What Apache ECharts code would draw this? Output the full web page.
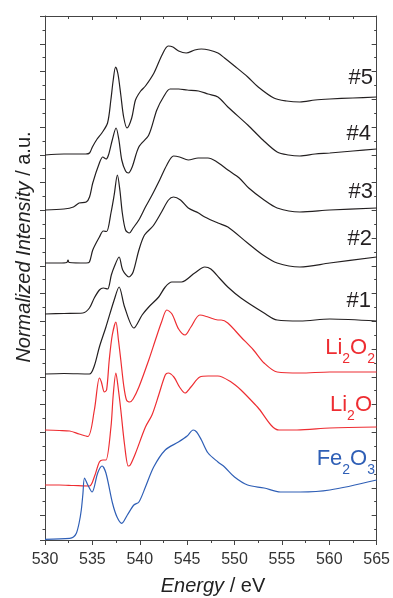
<!DOCTYPE html>
<html>
<head>
<meta charset="utf-8">
<script src="https://cdn.jsdelivr.net/npm/echarts@6/dist/echarts.min.js"></script>
<style>
html,body{margin:0;padding:0;background:#fff;}
#chart{width:393px;height:598px;}
</style>
</head>
<body>
<div id="chart"></div>
<script>
// Energy axis ticks
var xTicks = [530, 535, 540, 545, 550, 555, 560, 565];

// Spectra: [Energy (eV), stacked normalized intensity (a.u.)]
var s5 = [[530,38.5],[532,38.6],[534.3,38.6],[534.7,38.7],[535.0,39.3],[535.5,40.1],[536.0,40.7],[536.6,41.7],[536.95,44.0],[537.2,46.0],[537.45,47.3],[537.7,46.6],[538.0,44.5],[538.3,42.3],[538.65,41.2],[539.15,42.2],[539.55,44.0],[540.1,44.9],[540.6,45.4],[541.5,46.7],[542.35,48.5],[543.0,49.4],[543.5,49.3],[544.1,48.9],[544.9,48.7],[545.8,49.0],[546.5,49.1],[547.3,49.0],[548.25,48.7],[548.95,48.2],[550.0,47.4],[551.4,46.3],[552.5,45.3],[554.15,44.2],[555.5,43.9],[556.9,43.8],[558.5,44.0],[560.05,44.1],[562.5,44.2],[565,44.3]];
var s4 = [[530,33.0],[532,33.1],[533.0,33.3],[533.6,33.7],[534.35,33.8],[534.7,34.3],[535.04,35.7],[535.74,37.7],[536.1,38.3],[536.45,38.1],[536.7,38.5],[537.1,40.0],[537.5,41.2],[537.8,40.0],[538.1,38.0],[538.5,36.9],[538.8,36.7],[539.2,37.3],[539.9,39.3],[540.95,40.5],[541.8,43.0],[542.5,44.3],[543.2,45.1],[544.1,45.1],[545.0,45.0],[546.2,44.9],[547.2,44.6],[548.25,44.3],[549.3,43.3],[551.4,41.5],[553.0,40.0],[554.5,38.8],[555.7,38.5],[556.9,38.4],[558.5,38.6],[560.05,38.7],[562.5,38.9],[565,39.1]];
var s3 = [[530,27.7],[531.5,27.7],[532.3,27.75],[532.43,28.0],[532.55,27.75],[534.35,27.7],[534.69,27.8],[535.04,29.0],[535.74,30.3],[536.15,30.9],[536.5,30.85],[536.96,32.7],[537.3,34.5],[537.64,36.5],[537.9,35.0],[538.16,32.7],[538.5,31.0],[538.9,30.7],[539.3,31.2],[539.9,32.0],[540.6,33.3],[541.3,34.5],[542.1,36.0],[542.86,37.5],[543.56,38.4],[544.2,38.3],[545.12,38.0],[546.16,38.2],[547.2,38.2],[548.0,37.9],[549.3,37.0],[550.5,36.2],[551.5,35.2],[553.12,34.0],[554.5,33.2],[556.9,32.8],[560.05,33.0],[565,33.2]];
var s2 = [[530,22.6],[532,22.65],[534.0,22.7],[534.69,23.2],[535.2,24.2],[535.74,25.0],[536.15,25.2],[536.6,25.1],[537.0,26.5],[537.3,27.3],[537.82,28.3],[538.2,27.0],[538.86,26.3],[539.3,26.8],[539.91,29.0],[540.5,30.5],[541.4,31.4],[542.3,32.8],[543.03,34.0],[543.56,34.3],[544.3,34.0],[545.12,33.2],[546.2,32.7],[546.86,32.3],[548.25,31.7],[549.3,31.3],[551.38,29.7],[553.0,28.5],[554.5,27.7],[556.9,27.3],[560.05,27.7],[565,28.3]];
var s1 = [[530,16.6],[532,16.65],[534.69,16.6],[535.2,17.4],[535.74,19.3],[536.43,21.3],[537.3,24.0],[537.82,25.3],[538.4,23.3],[539.38,21.2],[540.25,22.5],[540.95,23.3],[542.0,24.3],[542.69,25.3],[543.38,25.8],[544.4,25.8],[545.8,26.7],[546.86,27.3],[547.5,27.1],[548.4,26.2],[549.29,25.3],[550.68,24.2],[553.12,22.7],[554.5,22.0],[556.93,21.9],[560.06,22.1],[565,21.9]];
var sLi2O2 = [[530,11.0],[531.5,10.95],[532.6,10.9],[533.6,10.6],[534.52,10.35],[535.21,13.0],[535.74,16.2],[535.95,15.8],[536.26,14.8],[536.5,15.0],[536.78,18.0],[537.1,20.5],[537.48,21.8],[537.75,20.0],[538.0,18.0],[538.3,15.5],[538.6,14.0],[538.94,13.8],[539.3,14.1],[539.91,15.3],[540.95,18.0],[541.65,20.0],[542.3,21.8],[542.86,23.0],[543.4,22.6],[544.1,21.1],[544.78,20.5],[545.4,21.3],[546.34,22.5],[547.21,22.3],[548.25,22.0],[548.59,22.0],[549.29,21.7],[550.68,20.3],[552.0,19.0],[553.12,17.7],[554.5,16.8],[556.93,16.7],[560.06,16.8],[565,16.8]];
var sLi2O = [[530,5.5],[531.5,5.5],[533.0,5.45],[534.69,5.4],[535.2,6.3],[535.74,7.8],[536.1,8.0],[536.43,8.0],[536.96,11.3],[537.2,14.5],[537.48,16.7],[537.75,15.0],[538.0,13.0],[538.4,9.5],[538.79,7.4],[539.0,7.5],[539.56,8.7],[540.6,11.3],[541.29,12.5],[542.0,14.5],[542.69,16.5],[543.0,16.7],[543.6,16.3],[544.2,15.3],[544.78,14.7],[545.4,15.3],[546.34,16.3],[547.21,16.4],[548.25,16.4],[549.64,15.8],[550.68,15.0],[552.42,13.3],[554.68,11.0],[556.59,11.0],[560.06,11.2],[565,11.3]];
var sFe2O3 = [[530,0.07],[532.61,0.17],[533.0,0.3],[533.31,0.67],[533.6,1.7],[533.83,3.0],[534.0,4.6],[534.17,6.2],[534.52,5.5],[534.97,4.8],[535.56,6.7],[536.02,7.4],[536.43,6.7],[537.12,3.7],[537.6,2.3],[538.1,1.67],[538.69,2.5],[539.38,3.5],[539.91,3.8],[540.6,5.3],[541.47,7.3],[542.69,9.0],[544.08,9.8],[545.0,10.4],[545.64,11.0],[546.0,10.8],[546.51,10.0],[547.21,8.7],[548.25,7.8],[548.95,7.3],[550.0,6.3],[551.38,5.5],[553.12,5.2],[554.85,4.8],[556.93,4.8],[560.06,5.0],[565,6.0]];

var seriesNames = ['#5', '#4', '#3', '#2', '#1', 'Li2O2', 'Li2O', 'Fe2O3'];
var seriesData = [s5, s4, s3, s2, s1, sLi2O2, sLi2O, sFe2O3];

var BLACK = '#231f20', RED = '#ee2d32', BLUE = '#2f5fb6';
var colors = [BLACK, BLACK, BLACK, BLACK, BLACK, RED, RED, BLUE];

var chart = echarts.init(document.getElementById('chart'), null, {renderer: 'canvas'});
var FONT = '"Liberation Sans", Arial, Helvetica, sans-serif';
var AX = '#444';

var series = seriesData.map(function (d, i) {
  return {
    name: seriesNames[i], type: 'line', data: d, xAxisIndex: 0, yAxisIndex: 0,
    showSymbol: false, smooth: 0.3, animation: false,
    lineStyle: {color: colors[i], width: 1.2}
  };
});

var sub = {fontSize: 14, lineHeight: 14, padding: [15, 0, 0, 0], verticalAlign: 'top', fontFamily: FONT};
function lab(text, x, y, color) {
  var r = {
    m: {fontSize: 22, lineHeight: 22, verticalAlign: 'top', fontFamily: FONT, fill: color},
    s: Object.assign({fill: color}, sub)
  };
  return {type: 'text', right: 393 - x, top: y, silent: true,
    style: {text: text, rich: r, fill: color, font: '22px ' + FONT}};
}

chart.setOption({
  backgroundColor: '#fff',
  animation: false,
  grid: {left: 45, right: 12, top: 16, bottom: 58},
  xAxis: [{
    type: 'value', position: 'bottom', min: 530, max: 565, interval: 5,
    axisLine: {show: true, lineStyle: {color: AX, width: 1}},
    axisTick: {show: true, inside: false, length: 5, lineStyle: {color: AX}},
    minorTick: {show: true, splitNumber: 2, length: 3, lineStyle: {color: AX}},
    axisLabel: {show: true, fontSize: 16, color: '#333', margin: 12, fontFamily: FONT,
      formatter: function (v) { return xTicks.indexOf(v) >= 0 ? String(v) : ''; }},
    splitLine: {show: false}
  }, {
    type: 'value', position: 'top', min: 530, max: 565, interval: 5,
    axisLine: {show: true, lineStyle: {color: AX, width: 1}},
    axisTick: {show: true, inside: true, length: 4, lineStyle: {color: AX}},
    minorTick: {show: true, splitNumber: 2, length: 3, lineStyle: {color: AX}},
    axisLabel: {show: false}, splitLine: {show: false}
  }],
  yAxis: [{
    type: 'value', min: 0, max: 52.4, show: false
  }, {
    type: 'value', position: 'left', inverse: true, min: 0, max: 18.88, interval: 1,
    axisLine: {show: true, lineStyle: {color: AX, width: 1}},
    axisTick: {show: true, inside: false, length: 5, lineStyle: {color: AX}},
    minorTick: {show: true, splitNumber: 2, length: 2.5, lineStyle: {color: AX}},
    axisLabel: {show: false}, splitLine: {show: false}
  }, {
    type: 'value', position: 'right', inverse: true, min: 0, max: 18.88, interval: 1,
    axisLine: {show: true, lineStyle: {color: AX, width: 1}},
    axisTick: {show: true, inside: true, length: 5, lineStyle: {color: AX}},
    minorTick: {show: true, splitNumber: 2, length: 2.5, lineStyle: {color: AX}},
    axisLabel: {show: false}, splitLine: {show: false}
  }],
  series: series,
  graphic: [
    lab('{m|#5}', 373, 67, BLACK),
    lab('{m|#4}', 371, 123, BLACK),
    lab('{m|#3}', 373, 181, BLACK),
    lab('{m|#2}', 372, 228, BLACK),
    lab('{m|#1}', 371, 290, BLACK),
    lab('{m|Li}{s|2}{m|O}{s|2}', 375, 337, RED),
    lab('{m|Li}{s|2}{m|O}', 372, 394, RED),
    lab('{m|Fe}{s|2}{m|O}{s|3}', 375, 448, BLUE),
    {type: 'text', x: 213, y: 586, silent: true,
      style: {text: '{i|Energy}{n| / eV}', align: 'center', verticalAlign: 'middle',
        rich: {i: {fontSize: 20, fontStyle: 'italic', fontFamily: FONT, fill: '#222'},
               n: {fontSize: 20, fontFamily: FONT, fill: '#222'}}}},
    {type: 'text', x: 24, y: 247, rotation: Math.PI / 2, silent: true,
      style: {text: '{i|Normalized Intensity}{n| / a.u.}', align: 'center', verticalAlign: 'middle',
        rich: {i: {fontSize: 20, fontStyle: 'italic', fontFamily: FONT, fill: '#222'},
               n: {fontSize: 20, fontFamily: FONT, fill: '#222'}}}}
  ]
});
</script>
</body>
</html>
